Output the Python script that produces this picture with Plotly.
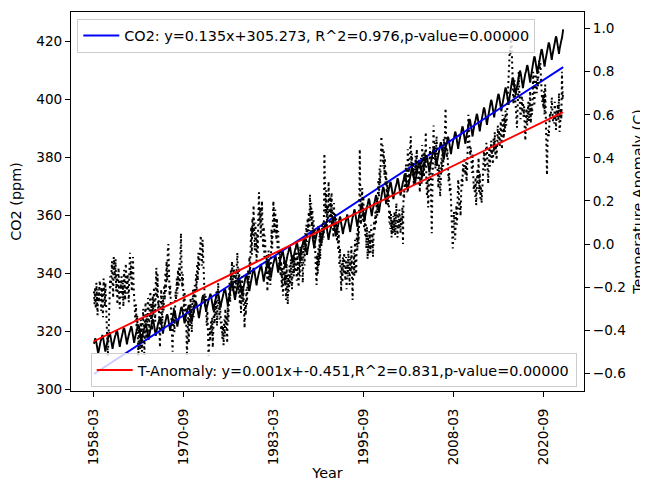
import pandas as pd
import plotly.graph_objects as go

# ---- data ----
START_MONTH = "1958-03"

CO2_PPM = [
    315.7, 317.5, 317.5, 317.2, 315.9, 314.9, 313.2, 312.4, 313.3, 314.7,  # 1958 Mar-Dec
    316.0, 316.5, 317.1, 318.2, 318.7, 318.1, 316.7, 314.7, 313.1, 313.0, 314.4, 315.7,  # 1959
    316.9, 317.4, 318.0, 319.1, 319.6, 319.0, 317.6, 315.6, 314.0, 313.9, 315.3, 316.6,  # 1960
    317.6, 318.1, 318.7, 319.8, 320.3, 319.7, 318.3, 316.3, 314.7, 314.6, 316.0, 317.3,  # 1961
    318.5, 319.0, 319.6, 320.7, 321.2, 320.6, 319.2, 317.2, 315.6, 315.5, 316.9, 318.2,  # 1962
    319.0, 319.5, 320.1, 321.2, 321.7, 321.1, 319.7, 317.7, 316.1, 316.0, 317.4, 318.7,  # 1963
    319.6, 320.1, 320.7, 321.8, 322.3, 321.7, 320.3, 318.3, 316.7, 316.6, 318.0, 319.3,  # 1964
    320.0, 320.5, 321.1, 322.2, 322.7, 322.1, 320.7, 318.7, 317.1, 317.0, 318.4, 319.7,  # 1965
    321.4, 321.9, 322.5, 323.6, 324.1, 323.5, 322.1, 320.1, 318.5, 318.4, 319.8, 321.1,  # 1966
    322.2, 322.7, 323.3, 324.4, 324.9, 324.3, 322.9, 320.9, 319.3, 319.2, 320.6, 321.9,  # 1967
    323.1, 323.6, 324.2, 325.3, 325.8, 325.2, 323.8, 321.8, 320.2, 320.1, 321.5, 322.8,  # 1968
    324.6, 325.1, 325.7, 326.8, 327.3, 326.7, 325.3, 323.3, 321.7, 321.6, 323.0, 324.3,  # 1969
    325.7, 326.2, 326.8, 327.9, 328.4, 327.8, 326.4, 324.4, 322.8, 322.7, 324.1, 325.4,  # 1970
    326.3, 326.8, 327.4, 328.5, 329.0, 328.4, 327.0, 325.0, 323.4, 323.3, 324.7, 326.0,  # 1971
    327.5, 328.0, 328.6, 329.7, 330.2, 329.6, 328.2, 326.2, 324.6, 324.5, 325.9, 327.2,  # 1972
    329.7, 330.2, 330.8, 331.9, 332.4, 331.8, 330.4, 328.4, 326.8, 326.7, 328.1, 329.4,  # 1973
    330.2, 330.7, 331.3, 332.4, 332.9, 332.3, 330.9, 328.9, 327.3, 327.2, 328.6, 329.9,  # 1974
    331.1, 331.6, 332.2, 333.3, 333.8, 333.2, 331.8, 329.8, 328.2, 328.1, 329.5, 330.8,  # 1975
    332.0, 332.5, 333.1, 334.2, 334.7, 334.1, 332.7, 330.7, 329.1, 329.0, 330.4, 331.7,  # 1976
    333.8, 334.3, 334.9, 336.0, 336.5, 335.9, 334.5, 332.5, 330.9, 330.8, 332.2, 333.5,  # 1977
    335.4, 335.9, 336.5, 337.6, 338.1, 337.5, 336.1, 334.1, 332.5, 332.4, 333.8, 335.1,  # 1978
    336.8, 337.3, 337.9, 339.0, 339.5, 338.9, 337.5, 335.5, 333.9, 333.8, 335.2, 336.5,  # 1979
    338.2, 339.0, 339.6, 340.8, 341.8, 341.2, 339.5, 337.5, 335.9, 335.8, 337.4, 338.9,  # 1980
    339.5, 340.3, 340.9, 342.1, 343.1, 342.5, 340.8, 338.8, 337.2, 337.1, 338.7, 340.2,  # 1981
    340.9, 341.7, 342.3, 343.5, 344.5, 343.9, 342.2, 340.2, 338.6, 338.5, 340.1, 341.6,  # 1982
    342.6, 343.4, 344.0, 345.2, 346.2, 345.6, 343.9, 341.9, 340.3, 340.2, 341.8, 343.3,  # 1983
    344.3, 345.1, 345.7, 346.9, 347.9, 347.3, 345.6, 343.6, 342.0, 341.9, 343.5, 345.0,  # 1984
    345.8, 346.6, 347.2, 348.4, 349.4, 348.8, 347.1, 345.1, 343.5, 343.4, 345.0, 346.5,  # 1985
    347.0, 347.8, 348.4, 349.6, 350.6, 350.0, 348.3, 346.3, 344.7, 344.6, 346.2, 347.7,  # 1986
    348.7, 349.5, 350.1, 351.3, 352.3, 351.7, 350.0, 348.0, 346.4, 346.3, 347.9, 349.4,  # 1987
    351.1, 351.9, 352.5, 353.7, 354.7, 354.1, 352.4, 350.4, 348.8, 348.7, 350.3, 351.8,  # 1988
    352.6, 353.4, 354.0, 355.2, 356.2, 355.6, 353.9, 351.9, 350.3, 350.2, 351.8, 353.3,  # 1989
    353.9, 354.7, 355.3, 356.5, 357.5, 356.9, 355.2, 353.2, 351.6, 351.5, 353.1, 354.6,  # 1990
    355.1, 355.9, 356.5, 357.7, 358.7, 358.1, 356.4, 354.4, 352.8, 352.7, 354.3, 355.8,  # 1991
    355.9, 356.7, 357.3, 358.5, 359.5, 358.9, 357.2, 355.2, 353.6, 353.5, 355.1, 356.6,  # 1992
    356.6, 357.4, 358.0, 359.2, 360.2, 359.6, 357.9, 355.9, 354.3, 354.2, 355.8, 357.3,  # 1993
    358.4, 359.2, 359.8, 361.0, 362.0, 361.4, 359.7, 357.7, 356.1, 356.0, 357.6, 359.1,  # 1994
    360.4, 361.2, 361.8, 363.0, 364.0, 363.4, 361.7, 359.7, 358.1, 358.0, 359.6, 361.1,  # 1995
    362.1, 362.9, 363.5, 364.7, 365.7, 365.1, 363.4, 361.4, 359.8, 359.7, 361.3, 362.8,  # 1996
    363.3, 364.1, 364.7, 365.9, 366.9, 366.3, 364.6, 362.6, 361.0, 360.9, 362.5, 364.0,  # 1997
    366.2, 367.0, 367.6, 368.8, 369.8, 369.2, 367.5, 365.5, 363.9, 363.8, 365.4, 366.9,  # 1998
    367.9, 368.7, 369.3, 370.5, 371.5, 370.9, 369.2, 367.2, 365.6, 365.5, 367.1, 368.6,  # 1999
    369.1, 369.9, 370.5, 371.7, 372.7, 372.1, 370.4, 368.4, 366.8, 366.7, 368.3, 369.8,  # 2000
    370.7, 371.5, 372.1, 373.3, 374.3, 373.7, 372.0, 370.0, 368.4, 368.3, 369.9, 371.4,  # 2001
    372.9, 373.7, 374.3, 375.5, 376.5, 375.9, 374.2, 372.2, 370.6, 370.5, 372.1, 373.6,  # 2002
    375.4, 376.2, 376.8, 378.0, 379.0, 378.4, 376.7, 374.7, 373.1, 373.0, 374.6, 376.1,  # 2003
    377.1, 377.9, 378.5, 379.7, 380.7, 380.1, 378.4, 376.4, 374.8, 374.7, 376.3, 377.8,  # 2004
    379.4, 380.2, 380.8, 382.0, 383.0, 382.4, 380.7, 378.7, 377.1, 377.0, 378.6, 380.1,  # 2005
    381.5, 382.3, 382.9, 384.1, 385.1, 384.5, 382.8, 380.8, 379.2, 379.1, 380.7, 382.2,  # 2006
    383.4, 384.2, 384.8, 386.0, 387.0, 386.4, 384.7, 382.7, 381.1, 381.0, 382.6, 384.1,  # 2007
    385.2, 386.0, 386.6, 387.8, 388.8, 388.2, 386.5, 384.5, 382.9, 382.8, 384.4, 385.9,  # 2008
    387.0, 387.8, 388.4, 389.6, 390.6, 390.0, 388.3, 386.3, 384.7, 384.6, 386.2, 387.7,  # 2009
    389.5, 390.3, 390.9, 392.1, 393.1, 392.5, 390.8, 388.8, 387.2, 387.1, 388.7, 390.2,  # 2010
    391.3, 392.1, 392.7, 393.9, 394.9, 394.3, 392.6, 390.6, 389.0, 388.9, 390.5, 392.0,  # 2011
    393.5, 394.3, 394.9, 396.1, 397.1, 396.5, 394.8, 392.8, 391.2, 391.1, 392.7, 394.2,  # 2012
    396.1, 396.9, 397.5, 398.7, 399.7, 399.1, 397.4, 395.4, 393.8, 393.7, 395.3, 396.8,  # 2013
    398.2, 399.0, 399.6, 400.8, 401.8, 401.2, 399.5, 397.5, 395.9, 395.8, 397.4, 398.9,  # 2014
    400.4, 401.2, 401.8, 403.0, 404.0, 403.4, 401.7, 399.7, 398.1, 398.0, 399.6, 401.1,  # 2015
    403.8, 404.6, 405.2, 406.4, 407.4, 406.8, 405.1, 403.1, 401.5, 401.4, 403.0, 404.5,  # 2016
    406.2, 407.0, 407.6, 408.8, 409.8, 409.2, 407.5, 405.5, 403.9, 403.8, 405.4, 406.9,  # 2017
    408.1, 408.9, 409.5, 410.7, 411.7, 411.1, 409.4, 407.4, 405.8, 405.7, 407.3, 408.8,  # 2018
    411.1, 411.9, 412.5, 413.7, 414.7, 414.1, 412.4, 410.4, 408.8, 408.7, 410.3, 411.8,  # 2019
    413.6, 414.4, 415.0, 416.2, 417.2, 416.6, 414.9, 412.9, 411.3, 411.2, 412.8, 414.3,  # 2020
    415.9, 416.7, 417.3, 418.5, 419.5, 418.9, 417.2, 415.2, 413.6, 413.5, 415.1, 416.6,  # 2021
    418.0, 418.8, 419.4, 420.6, 421.6, 421.0, 419.3, 417.3, 415.7, 415.6, 417.2, 418.7,  # 2022
    419.5, 420.3, 421.0, 423.4, 424.0,  # 2023 Jan-May
]

TEMP_ANOMALY = [
    -0.22, -0.28, -0.20, -0.30, -0.18, -0.25, -0.33, -0.21, -0.27, -0.19,  # 1958 Mar-Dec
    -0.17, -0.24, -0.31, -0.20, -0.26, -0.34, -0.16, -0.22, -0.29, -0.18, -0.25, -0.32,  # 1959
    -0.38, -0.52, -0.45, -0.30, -0.24, -0.15, -0.20, -0.12, -0.08, -0.18, -0.25, -0.06,  # 1960
    -0.10, -0.16, -0.07, -0.22, -0.14, -0.28, -0.19, -0.11, -0.24, -0.30, -0.17, -0.21,  # 1961
    -0.15, -0.25, -0.18, -0.29, -0.12, -0.20, -0.26, -0.09, -0.17, -0.23, -0.14, -0.19,  # 1962
    -0.27, -0.13, -0.04, -0.16, -0.08, -0.22, -0.11, -0.06, -0.19, -0.25, -0.30, -0.36,  # 1963
    -0.28, -0.40, -0.33, -0.45, -0.52, -0.38, -0.44, -0.49, -0.35, -0.42, -0.50, -0.37,  # 1964
    -0.30, -0.41, -0.52, -0.35, -0.27, -0.44, -0.33, -0.38, -0.25, -0.31, -0.43, -0.29,  # 1965
    -0.22, -0.35, -0.28, -0.40, -0.24, -0.33, -0.20, -0.27, -0.36, -0.18, -0.11, -0.25,  # 1966
    -0.14, -0.30, -0.26, -0.39, -0.48, -0.34, -0.21, -0.29, -0.37, -0.24, -0.31, -0.19,  # 1967
    -0.26, -0.13, -0.22, -0.08, -0.17, -0.03, 0.00, -0.12, -0.24, -0.19, -0.30, -0.36,  # 1968
    -0.44, -0.50, -0.38, -0.29, -0.41, -0.33, -0.22, -0.27, -0.16, -0.23, -0.12, -0.20,  # 1969
    -0.09, -0.18, -0.02, 0.05, -0.11, -0.20, -0.14, -0.26, -0.31, -0.22, -0.37, -0.28,  # 1970
    -0.45, -0.52, -0.40, -0.34, -0.46, -0.30, -0.38, -0.25, -0.33, -0.41, -0.29, -0.21,  # 1971
    -0.34, -0.27, -0.19, -0.28, -0.14, -0.22, -0.09, -0.17, -0.04, -0.12, -0.06, 0.01,  # 1972
    0.04, -0.03, -0.10, 0.02, -0.08, -0.15, -0.21, -0.29, -0.24, -0.33, -0.38, -0.31,  # 1973
    -0.44, -0.52, -0.47, -0.39, -0.45, -0.36, -0.42, -0.34, -0.48, -0.40, -0.30, -0.37,  # 1974
    -0.26, -0.33, -0.22, -0.38, -0.29, -0.18, -0.24, -0.35, -0.27, -0.31, -0.40, -0.36,  # 1975
    -0.44, -0.38, -0.47, -0.35, -0.43, -0.30, -0.39, -0.33, -0.46, -0.28, -0.36, -0.24,  # 1976
    -0.18, -0.27, -0.12, -0.20, -0.08, -0.15, -0.22, -0.10, -0.17, -0.25, -0.13, -0.19,  # 1977
    -0.10, -0.04, -0.16, -0.23, -0.11, -0.28, -0.19, -0.32, -0.24, -0.15, -0.27, -0.21,  # 1978
    -0.30, -0.39, -0.26, -0.33, -0.21, -0.28, -0.17, -0.12, -0.22, -0.06, -0.14, 0.02,  # 1979
    0.08, -0.05, 0.12, 0.04, 0.18, 0.07, -0.03, 0.10, 0.02, -0.08, 0.05, -0.04,  # 1980
    0.14, 0.24, 0.09, 0.17, 0.03, 0.11, 0.20, 0.06, -0.02, 0.08, -0.06, 0.04,  # 1981
    -0.08, -0.14, -0.05, -0.22, -0.12, -0.03, -0.17, -0.09, -0.19, -0.01, 0.07, -0.02,  # 1982
    0.11, 0.20, 0.14, 0.05, 0.16, 0.08, 0.02, 0.12, -0.04, 0.06, -0.07, -0.12,  # 1983
    -0.03, -0.15, -0.08, -0.20, -0.11, -0.24, -0.16, -0.06, -0.19, -0.13, -0.26, -0.09,  # 1984
    -0.18, -0.28, -0.14, -0.22, -0.10, -0.19, -0.07, -0.16, -0.21, -0.12, -0.05, -0.15,  # 1985
    -0.06, -0.13, -0.02, -0.10, -0.17, -0.04, -0.12, -0.20, -0.08, -0.15, -0.01, -0.09,  # 1986
    -0.03, -0.12, -0.18, -0.06, 0.02, -0.10, 0.05, -0.04, 0.09, 0.01, 0.12, 0.06,  # 1987
    0.15, 0.06, 0.23, 0.12, 0.19, 0.08, 0.16, 0.03, 0.11, -0.02, 0.07, -0.06,  # 1988
    -0.12, -0.19, -0.05, -0.14, -0.02, -0.10, 0.04, -0.07, 0.06, -0.01, 0.09, 0.02,  # 1989
    0.10, 0.03, 0.42, 0.21, 0.14, 0.25, 0.07, 0.18, 0.11, 0.29, 0.16, 0.08,  # 1990
    0.22, 0.13, 0.24, 0.10, 0.17, 0.03, 0.19, 0.08, 0.14, 0.05, 0.12, 0.01,  # 1991
    0.09, -0.03, 0.06, -0.10, -0.02, -0.13, -0.22, -0.09, -0.18, -0.06, -0.14, -0.04,  # 1992
    -0.11, -0.17, -0.06, -0.21, -0.08, -0.15, -0.03, -0.12, -0.19, -0.07, -0.13, -0.01,  # 1993
    -0.09, -0.26, -0.12, -0.04, -0.15, 0.02, -0.08, -0.14, 0.05, -0.03, 0.08, 0.00,  # 1994
    0.12, 0.44, 0.20, 0.09, 0.17, 0.26, 0.11, 0.22, 0.07, 0.15, 0.04, 0.10,  # 1995
    -0.02, 0.08, -0.07, 0.03, -0.05, 0.06, 0.01, -0.04, 0.09, -0.01, 0.05, -0.06,  # 1996
    0.04, 0.11, 0.06, 0.15, 0.09, 0.20, 0.13, 0.24, 0.30, 0.22, 0.35, 0.28,  # 1997
    0.38, 0.50, 0.41, 0.46, 0.36, 0.43, 0.32, 0.40, 0.27, 0.34, 0.21, 0.29,  # 1998
    0.18, 0.25, 0.10, 0.16, 0.07, 0.14, 0.03, 0.11, 0.05, 0.13, 0.06, 0.15,  # 1999
    0.04, 0.12, 0.19, 0.08, 0.03, 0.14, 0.07, 0.16, 0.10, 0.05, 0.13, 0.09,  # 2000
    0.17, 0.00, 0.25, 0.21, 0.32, 0.26, 0.37, 0.30, 0.24, 0.44, 0.33, 0.28,  # 2001
    0.39, 0.47, 0.50, 0.36, 0.42, 0.31, 0.38, 0.27, 0.35, 0.29, 0.41, 0.33,  # 2002
    0.44, 0.36, 0.30, 0.27, 0.37, 0.24, 0.33, 0.40, 0.28, 0.46, 0.35, 0.42,  # 2003
    0.31, 0.43, 0.36, 0.52, 0.29, 0.22, 0.30, 0.17, 0.26, 0.38, 0.45, 0.33,  # 2004
    0.14, 0.05, 0.24, 0.38, 0.55, 0.41, 0.47, 0.35, 0.44, 0.50, 0.39, 0.32,  # 2005
    0.26, 0.37, 0.31, 0.22, 0.28, 0.40, 0.33, 0.45, 0.36, 0.49, 0.42, 0.52,  # 2006
    0.63, 0.48, 0.40, 0.44, 0.35, 0.29, 0.33, 0.24, 0.28, 0.19, 0.12, 0.06,  # 2007
    -0.02, 0.05, 0.15, 0.08, 0.02, 0.11, 0.18, 0.09, 0.21, 0.30, 0.26, 0.16,  # 2008
    0.20, 0.13, 0.24, 0.31, 0.27, 0.37, 0.33, 0.40, 0.36, 0.32, 0.38, 0.29,  # 2009
    0.35, 0.44, 0.60, 0.52, 0.47, 0.41, 0.45, 0.38, 0.33, 0.42, 0.36, 0.25,  # 2010
    0.28, 0.22, 0.31, 0.18, 0.26, 0.35, 0.29, 0.40, 0.24, 0.33, 0.21, 0.27,  # 2011
    0.19, 0.23, 0.30, 0.37, 0.43, 0.39, 0.34, 0.41, 0.47, 0.44, 0.36, 0.28,  # 2012
    0.38, 0.45, 0.36, 0.42, 0.48, 0.40, 0.44, 0.37, 0.49, 0.43, 0.52, 0.41,  # 2013
    0.46, 0.39, 0.50, 0.55, 0.47, 0.53, 0.45, 0.51, 0.57, 0.49, 0.44, 0.60,  # 2014
    0.56, 0.49, 0.59, 0.52, 0.62, 0.55, 0.58, 0.64, 0.70, 0.78, 0.82, 0.90,  # 2015
    0.88, 0.99, 0.93, 0.84, 0.72, 0.65, 0.70, 0.76, 0.68, 0.62, 0.58, 0.54,  # 2016
    0.63, 0.78, 0.80, 0.70, 0.66, 0.58, 0.64, 0.69, 0.61, 0.67, 0.59, 0.64,  # 2017
    0.52, 0.48, 0.58, 0.63, 0.55, 0.60, 0.66, 0.57, 0.62, 0.71, 0.56, 0.64,  # 2018
    0.60, 0.66, 0.80, 0.72, 0.64, 0.76, 0.79, 0.74, 0.70, 0.78, 0.73, 0.82,  # 2019
    0.85, 0.81, 0.84, 0.77, 0.73, 0.66, 0.69, 0.63, 0.71, 0.60, 0.74, 0.56,  # 2020
    0.46, 0.32, 0.48, 0.53, 0.50, 0.55, 0.61, 0.58, 0.64, 0.68, 0.62, 0.57,  # 2021
    0.60, 0.56, 0.66, 0.58, 0.53, 0.62, 0.59, 0.65, 0.57, 0.70, 0.52, 0.55,  # 2022
    0.63, 0.58, 0.80, 0.67, 0.71,  # 2023 Jan-May
]

TICK_LABELS = ["1958-03", "1970-09", "1983-03", "1995-09", "2008-03", "2020-09"]

# regression results as printed in the legends (slopes refined from the drawn lines)
CO2_FIT = {"slope": 0.1352, "intercept": 305.273}
TEMP_FIT = {"slope": 0.00136, "intercept": -0.451}
CO2_LABEL = "CO2: y=0.135x+305.273, R^2=0.976,p-value=0.00000"
TEMP_LABEL = "T-Anomaly: y=0.001x+-0.451,R^2=0.831,p-value=0.00000"

assert len(CO2_PPM) == len(TEMP_ANOMALY), (len(CO2_PPM), len(TEMP_ANOMALY))
N = len(CO2_PPM)
MONTHS = list(pd.period_range(START_MONTH, periods=N, freq="M").strftime("%Y-%m"))
IDX = list(range(N))

co2_fit_line = [CO2_FIT["slope"] * i + CO2_FIT["intercept"] for i in IDX]
temp_fit_line = [TEMP_FIT["slope"] * i + TEMP_FIT["intercept"] for i in IDX]

FONT = "DejaVu Sans"
FS = 13.6
LFS = 14.4

fig = go.Figure()
fig.add_trace(go.Scatter(x=MONTHS, y=CO2_PPM, mode="lines",
                         line=dict(color="black", width=1.9),
                         showlegend=False, yaxis="y"))
fig.add_trace(go.Scatter(x=MONTHS, y=co2_fit_line, mode="lines",
                         line=dict(color="#0000ff", width=1.9),
                         name=CO2_LABEL, legend="legend", yaxis="y"))
fig.add_trace(go.Scatter(x=MONTHS, y=TEMP_ANOMALY, mode="lines",
                         line=dict(color="black", width=2.0, dash="2px,3.4px"),
                         showlegend=False, yaxis="y2"))
fig.add_trace(go.Scatter(x=MONTHS, y=temp_fit_line, mode="lines",
                         line=dict(color="#ff0000", width=1.9),
                         name=TEMP_LABEL, legend="legend2", yaxis="y2"))

axis_common = dict(showline=True, linecolor="black", linewidth=1.1,
                   ticks="outside", ticklen=5, tickwidth=1.1, tickcolor="black",
                   showgrid=False, zeroline=False, automargin=False,
                   tickfont=dict(family=FONT, size=FS, color="black"))

# the page body adds an 8px offset, so the figure is 8px smaller than the window
fig.update_layout(
    width=640, height=473,
    margin=dict(l=63, r=64, t=3.7, b=90, pad=0),
    paper_bgcolor="white", plot_bgcolor="white",
    font=dict(family=FONT, size=FS, color="black"),
    xaxis=dict(type="category", range=[-38.3, 816.7],
               tickmode="array", tickvals=TICK_LABELS, ticktext=TICK_LABELS,
               tickangle=-90, mirror=True, ticklabelstandoff=6,
               title=dict(text="Year", font=dict(family=FONT, size=LFS), standoff=6),
               **axis_common),
    yaxis=dict(range=[299.4, 430.0], tickmode="array",
               tickvals=[300, 320, 340, 360, 380, 400, 420],
               title=dict(text="CO2 (ppm)", font=dict(family=FONT, size=LFS), standoff=11),
               **axis_common),
    yaxis2=dict(range=[-0.682, 1.077], overlaying="y", side="right",
                tickmode="array", tickvals=[-0.6, -0.4, -0.2, 0.0, 0.2, 0.4, 0.6, 0.8, 1.0],
                tickformat=".1f",
                title=dict(text="Temperature Anomaly (C)", font=dict(family=FONT, size=LFS), standoff=8),
                **axis_common),
    legend=dict(x=0.0123, y=0.9826, xanchor="left", yanchor="top", itemwidth=36,
                bgcolor="rgba(255,255,255,0.8)", bordercolor="#cccccc", borderwidth=1,
                font=dict(family=FONT, size=LFS, color="black")),
    legend2=dict(x=0.9858, y=0.010, xanchor="right", yanchor="bottom", itemwidth=36,
                 bgcolor="rgba(255,255,255,0.8)", bordercolor="#cccccc", borderwidth=1,
                 font=dict(family=FONT, size=LFS, color="black")),
)

fig.write_html("out.html")
